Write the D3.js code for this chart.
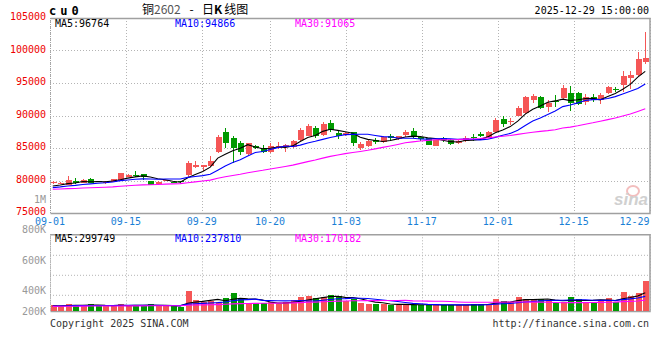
<!DOCTYPE html>
<html><head><meta charset="utf-8">
<script src="https://cdn.jsdelivr.net/npm/d3@7"></script>
<style>
body{margin:0;background:#fff}
svg{display:block}
text{font-family:"DejaVu Sans Mono",monospace;font-size:10px}
</style>
</head><body>
<svg id="c" width="660" height="360"></svg>
<script>
// ---------------- DATA ----------------
const dates = ["09-01","09-02","09-03","09-04","09-05","09-08","09-09","09-10","09-11","09-12",
"09-15","09-16","09-17","09-18","09-19","09-22","09-23","09-24","09-25","09-26","09-29","09-30",
"10-09","10-10","10-13","10-14","10-15","10-16","10-17","10-20","10-21","10-22","10-23","10-24",
"10-27","10-28","10-29","10-30","10-31","11-03","11-04","11-05","11-06","11-07","11-10","11-11",
"11-12","11-13","11-14","11-17","11-18","11-19","11-20","11-21","11-24","11-25","11-26","11-27",
"11-28","12-01","12-02","12-03","12-04","12-05","12-08","12-09","12-10","12-11","12-12","12-15",
"12-16","12-17","12-18","12-19","12-22","12-23","12-24","12-25","12-26","12-29"];
const open  = [79550,79600,79350,79920,79660,80230,79900,79600,79770,79950,80600,80880,81000,79920,79510,80000,79750,79850,80850,82120,
82120,82280,84430,87510,86590,85770,84030,85310,84890,84430,84950,85110,85110,86230,86890,88030,87000,88900,87350,87000,
87410,84950,85310,86230,85970,86850,86380,87000,87620,86690,86490,85350,86590,86230,85720,86080,86740,87100,86690,87510,
89460,89100,89970,90430,92390,92890,91350,92250,92740,93410,93410,92030,92890,92390,93410,94100,94690,95720,96230,98280];
const high  = [79900,79750,80750,80450,80300,80400,79950,79850,80300,81150,81000,81460,81050,80000,79900,80150,79800,79950,83050,83050,
82450,83770,87000,88120,86850,86080,85800,85500,85460,85820,85970,85600,86200,88030,88690,88380,88950,89300,87770,87500,
87500,85870,86200,86490,86890,87100,86900,87770,88030,86890,86600,86300,86740,86400,86380,86850,87100,87410,87600,89660,
89970,89570,91460,93050,93310,93050,92390,93150,94690,94540,93660,93300,93260,93410,94590,94380,96900,96900,99720,102800];
const low   = [79450,79500,79300,79500,79600,79550,79800,79500,79700,79900,80500,80580,80100,79250,79450,79950,79650,79650,80540,82000,
81460,82200,84300,84950,82650,83920,83900,84800,84300,84280,84900,84430,85000,86080,86800,86490,86900,87510,86380,86800,
85350,84740,85200,85570,85720,86080,86300,86740,86600,86080,85400,85300,85970,85400,85650,85970,86080,86650,86600,87400,
88280,88540,89900,90300,91880,91000,90580,91350,92600,90740,91610,91600,92030,91720,93310,93570,93660,94080,96100,97880];
const close = [79800,79650,80050,79570,80120,79620,79850,79800,80180,81100,80900,80820,80540,79310,79820,80080,79700,79750,82740,82380,
82380,83000,86740,85720,85050,84340,85720,84950,84430,85310,85310,85460,86120,87770,88380,86850,88690,87770,86850,87350,
85720,85620,86080,85970,86650,86490,86850,87510,86650,86380,85460,86230,86230,85570,86120,86590,86490,86850,87510,89300,
88640,89150,91110,92890,93050,91110,91970,92200,94280,91870,91770,92890,92390,93150,94430,94080,96080,96230,98690,98890];
const volume = [98000,81000,114000,98000,81000,114000,81000,81000,81000,114000,81000,98000,81000,114000,81000,81000,81000,60000,326000,179000,
141000,163000,141000,217000,293000,212000,125000,130000,130000,141000,114000,141000,174000,228000,245000,212000,230000,261000,245000,163000,
196000,136000,114000,114000,114000,98000,98000,114000,98000,98000,98000,98000,98000,98000,98000,98000,109000,109000,114000,196000,
163000,147000,228000,196000,196000,196000,163000,136000,141000,228000,196000,152000,152000,179000,212000,152000,310000,250000,293000,489000];
// estimated closes / volumes before 09-01 (implied by the starting MA levels)
const priorCloses = [78300,78450,78600,78400,78250,78500,78700,78650,78400,78350,78550,78800,78600,78450,78500,78700,78650,78500,78600,78550,
78500,78600,78700,78650,78800,78850,79000,79050,79050];
const priorVolumes = [70000,72000,75000,70000,68000,74000,76000,72000,70000,75000,73000,78000,72000,70000,76000,74000,72000,75000,78000,76000,
80000,78000,76000,82000,80000,78000,82000,80000,78000];
const priceTicks = [75000,80000,85000,90000,95000,100000,105000];
const dateTicks = ["09-01","09-15","09-29","10-20","11-03","11-17","12-01","12-15","12-29"];
const volTicks = [1000000,800000,600000,400000,200000];
const volTickLabels = ["1M","800K","600K","400K","200K"];
const priceLegend = ["MA5:96764","MA10:94866","MA30:91065"];
const volLegend = ["MA5:299749","MA10:237810","MA30:170182"];
const maPeriods = [5,10,30];
const maColors = ["#000000","#0000ff","#ff00ff"];

// ---------------- LAYOUT ----------------
const L=50, R=649.5, PT=18, PB=213, VT=234.3, VB=311;
const svg = d3.select("#c");
const n = dates.length;
const xBand = d3.scaleBand().domain(d3.range(n)).range([49,649]).paddingInner(0.2).paddingOuter(0.1);
const xGrid = d3.scalePoint().domain(dates).range([L,R]);
const yP = d3.scaleLinear().domain([75000,105000]).range([PB,PT]);
const yV = d3.scaleLinear().domain([0,1250000]).range([VB,VT]);
const yVLabel = d3.scaleLinear().domain([0,1000000]).range([351,200.3]);
const cx = i => xBand(i)+xBand.bandwidth()/2;
const red="#f55656", green="#009900", gridC="#b4b4b4";

function ma(series, prior, p){
  const all = prior.concat(series), off = prior.length;
  return series.map((_,i)=>d3.mean(all.slice(off+i-p+1, off+i+1)));
}

// grid
const g = svg.append("g");
g.selectAll(".hg").data(priceTicks.filter(v=>v>75000&&v<105000)).join("line")
  .attr("x1",L).attr("x2",R).attr("y1",d=>Math.round(yP(d))+0.5).attr("y2",d=>Math.round(yP(d))+0.5)
  .attr("stroke",gridC).attr("stroke-dasharray","1,2");
[21,41,61].forEach(o=>g.append("line").attr("x1",L).attr("x2",R).attr("y1",VT+o).attr("y2",VT+o)
  .attr("stroke",gridC).attr("stroke-dasharray","1,2"));
g.selectAll(".vg").data(dateTicks).join("line")
  .attr("x1",d=>Math.round(xGrid(d))+0.5).attr("x2",d=>Math.round(xGrid(d))+0.5)
  .attr("y1",PT).attr("y2",PB).attr("stroke",gridC).attr("stroke-dasharray","1,2");
g.selectAll(".vg2").data(dateTicks).join("line")
  .attr("x1",d=>Math.round(xGrid(d))+0.5).attr("x2",d=>Math.round(xGrid(d))+0.5)
  .attr("y1",VT).attr("y2",VB).attr("stroke",gridC).attr("stroke-dasharray","1,2");

// borders
[[PT,PB],[VT,VB]].forEach(([t,b])=>{
  g.append("path").attr("d",`M${L+0.5},${t+0.5}H${R+0.5}V${b+0.5}H${L+0.5}`).attr("fill","none")
   .attr("stroke","#a0a0a0").attr("stroke-width",1.5);
  g.append("line").attr("x1",L+0.5).attr("x2",L+0.5).attr("y1",t).attr("y2",b)
   .attr("stroke","#a0a0a0").attr("stroke-dasharray","1,1");
});

// watermark
const wm = svg.append("g").attr("opacity",0.9);
wm.append("ellipse").attr("cx",633).attr("cy",191).attr("rx",6).attr("ry",5).attr("fill","none").attr("stroke","#f2b8b8").attr("stroke-width",2);
wm.append("text").attr("x",648).attr("y",205).attr("text-anchor","end").attr("font-style","italic").attr("font-weight","bold")
  .style("font-family","Arial, 'Liberation Sans', sans-serif").style("font-size","17px").attr("fill","#cccccc").text("sina");

// candles
const cg = svg.append("g").attr("shape-rendering","crispEdges");
const cand = cg.selectAll("g").data(d3.range(n)).join("g");
cand.append("line").attr("x1",i=>Math.round(cx(i))+0.5).attr("x2",i=>Math.round(cx(i))+0.5)
  .attr("y1",i=>yP(high[i])).attr("y2",i=>yP(low[i]))
  .attr("stroke",i=>close[i]>=open[i]?red:green);
cand.append("rect").attr("x",i=>Math.round(cx(i))-2.5).attr("width",6)
  .attr("y",i=>yP(Math.max(open[i],close[i])))
  .attr("height",i=>Math.max(1,Math.abs(yP(open[i])-yP(close[i]))))
  .attr("fill",i=>close[i]>=open[i]?red:green);

// volume bars
cg.selectAll(".vb").data(d3.range(n)).join("rect")
  .attr("x",i=>Math.round(cx(i))-2.5).attr("width",6)
  .attr("y",i=>yV(volume[i])).attr("height",i=>VB-yV(volume[i]))
  .attr("fill",i=>close[i]>=open[i]?red:green);

// MA lines
maPeriods.forEach((p,k)=>{
  const m = ma(close, priorCloses, p);
  svg.append("path").attr("d",d3.line().x((d,i)=>cx(i)).y(d=>yP(d))(m))
    .attr("fill","none").attr("stroke",maColors[k]).attr("stroke-width",1.1);
  const mv = ma(volume, priorVolumes, p);
  svg.append("path").attr("d",d3.line().x((d,i)=>cx(i)).y(d=>yV(d))(mv))
    .attr("fill","none").attr("stroke",maColors[k]).attr("stroke-width",1.1);
});

// price axis labels
svg.selectAll(".pl").data(priceTicks).join("text")
  .attr("x",46).attr("y",d=>yP(d)-1).attr("text-anchor","end").attr("dominant-baseline","middle")
  .attr("fill","#ee0000").text(d=>d);
// volume axis labels
svg.selectAll(".vl").data(volTicks).join("text")
  .attr("x",46).attr("y",d=>Math.min(yVLabel(d),VB+0.7)).attr("text-anchor","end").attr("dominant-baseline","middle")
  .attr("fill","#999999").text((d,i)=>volTickLabels[i]);
// date labels
svg.selectAll(".dl").data(dateTicks).join("text")
  .attr("x",d=>Math.min(xGrid(d),R-15)).attr("y",221.5).attr("text-anchor","middle").attr("dominant-baseline","middle")
  .attr("fill","#1a7fd6").text(d=>d);

// legends
const legX=[55,175,295];
priceLegend.forEach((t,k)=>svg.append("text").attr("x",legX[k]).attr("y",24).attr("dominant-baseline","middle").attr("fill",maColors[k]).text(t));
volLegend.forEach((t,k)=>svg.append("text").attr("x",legX[k]).attr("y",239).attr("dominant-baseline","middle").attr("fill",maColors[k]).text(t));

// header
svg.append("text").attr("x",49).attr("y",11).attr("dominant-baseline","middle").attr("font-weight","bold")
  .style("font-size","12px").attr("letter-spacing","4px").attr("fill","#000").text("cu0");
const cjk = "'Noto Sans CJK SC',sans-serif";
svg.append("text").attr("x",142).attr("y",10.5).attr("dominant-baseline","middle").style("font-family",cjk).style("font-size","12px")
  .call(t=>{t.append("tspan").attr("fill","#000").text("铜"); t.append("tspan").attr("fill","#555").text("2602");});
svg.append("text").attr("x",191.5).attr("y",10.5).attr("text-anchor","middle").attr("dominant-baseline","middle").style("font-family",cjk).style("font-size","12px").attr("fill","#000").text("-");
svg.append("text").attr("x",202).attr("y",10.5).attr("dominant-baseline","middle").style("font-family",cjk).style("font-size","12px").attr("fill","#000")
  .call(t=>{t.append("tspan").text("日"); t.append("tspan").attr("font-weight","bold").text("K"); t.append("tspan").attr("dx",2).text("线图");});
svg.append("text").attr("x",649).attr("y",11).attr("text-anchor","end").attr("dominant-baseline","middle").attr("fill","#000").text("2025-12-29 15:00:00");

// footer
svg.append("text").attr("x",50).attr("y",323.5).attr("dominant-baseline","middle").attr("fill","#333").text("Copyright 2025 SINA.COM");
svg.append("text").attr("x",649).attr("y",324).attr("text-anchor","end").attr("dominant-baseline","middle").attr("fill","#333").text("http://finance.sina.com.cn");
</script>
</body></html>
